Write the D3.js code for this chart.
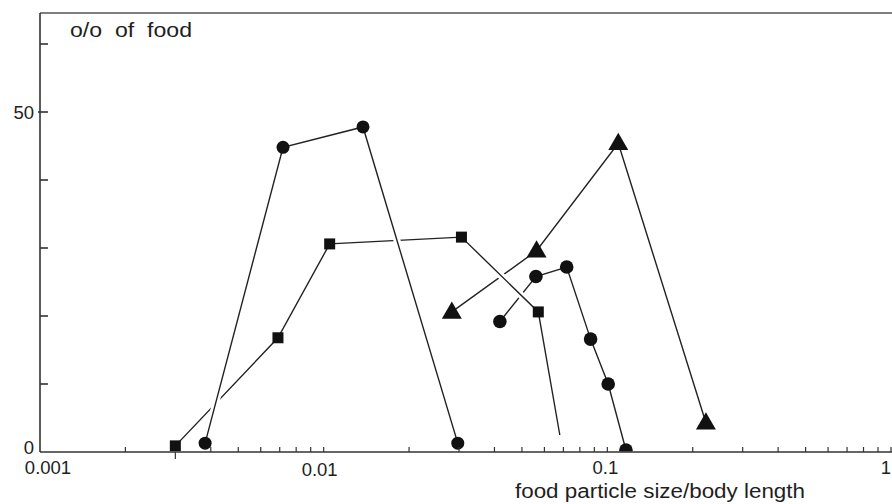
<!DOCTYPE html>
<html><head><meta charset="utf-8">
<script src="https://cdn.jsdelivr.net/npm/d3@7"></script>
<style>
html,body{margin:0;padding:0;background:#fff;}
svg{display:block;}
text{font-family:"Liberation Sans",Arial,Helvetica,sans-serif;fill:#1e1e1e;}
</style></head>
<body>
<svg id="chart" width="892" height="504"></svg>
<script>
// ---- data ----
const xTickLabels = ["0.001", "0.01", "0.1", "1"];
const xTickValues = [0.001, 0.01, 0.1, 1];
const yTickLabels = ["0", "50"];
const yTickLabelValues = [0, 50];
const yTicks = [10, 20, 30, 40, 50, 60];

// series A: circles, small particles
const circlesAX = [0.00382, 0.00719, 0.01376, 0.0297];
const circlesAY = [1.3, 44.8, 47.8, 1.3];
// series B: squares (last point is a line end without a marker)
const squaresX = [0.0030, 0.0069, 0.0105, 0.0306, 0.0571, 0.068];
const squaresY = [0.9, 16.8, 30.6, 31.6, 20.6, 2.5];
const squaresMarked = 5;
// series C: circles, larger particles
const circlesCX = [0.0418, 0.0560, 0.0719, 0.0873, 0.1007, 0.1163];
const circlesCY = [19.2, 25.8, 27.2, 16.6, 10.0, 0.3];
// series D: triangles
const trianglesX = [0.0283, 0.0563, 0.1093, 0.2226];
const trianglesY = [20.6, 29.6, 45.4, 4.3];

const yLabel = "o/o  of  food";
const xLabel = "food particle size/body length";

(function () {
// ---- layout ----
const svg = d3.select("#chart");
const L = 40, R = 891, T = 13, B = 452;
const x = d3.scaleLog().domain([0.001, 1]).range([L, R]);
const y = d3.scaleLinear().domain([0, (B - T) / 6.8]).range([B, T]);

const ink = "#222";
const zip = (xs, ys) => xs.map((v, i) => [v, ys[i]]);

svg.append("defs").append("clipPath").attr("id", "plot")
  .append("rect").attr("x", L).attr("y", 0).attr("width", 900).attr("height", B - 0.5);

const line = d3.line().x(d => x(d[0])).y(d => y(d[1]));
const gLines = svg.append("g").attr("clip-path", "url(#plot)");

// draw order gives the little breaks where lines cross
const order = [
  zip(trianglesX, trianglesY),
  zip(circlesCX, circlesCY),
  zip(squaresX, squaresY),
  zip(circlesAX, circlesAY)
];
order.forEach(pts => {
  gLines.append("path").attr("d", line(pts)).attr("fill", "none")
    .attr("stroke", "#fff").attr("stroke-width", 7);
  gLines.append("path").attr("d", line(pts)).attr("fill", "none")
    .attr("stroke", ink).attr("stroke-width", 1.4);
});

// markers
const gM = svg.append("g").attr("clip-path", "url(#plot)").attr("fill", "#111");
gM.append("g").selectAll("circle").data(zip(circlesAX, circlesAY)).join("circle")
  .attr("cx", d => x(d[0])).attr("cy", d => y(d[1])).attr("r", 6.5);
gM.append("g").selectAll("circle").data(zip(circlesCX, circlesCY)).join("circle")
  .attr("cx", d => x(d[0])).attr("cy", d => y(d[1])).attr("r", 6.8);
gM.append("g").selectAll("rect").data(zip(squaresX, squaresY).slice(0, squaresMarked)).join("rect")
  .attr("x", d => x(d[0]) - 5.5).attr("y", d => y(d[1]) - 5.5)
  .attr("width", 11).attr("height", 11);
const tri = d3.symbol().type(d3.symbolTriangle).size(173);
gM.append("g").selectAll("path").data(zip(trianglesX, trianglesY)).join("path")
  .attr("transform", d => `translate(${x(d[0])},${y(d[1]) + 1})`)
  .attr("d", tri());

// ---- axes / frame ----
const axisColor = "#333";
svg.append("line").attr("x1", L).attr("x2", 892).attr("y1", T).attr("y2", T)
  .attr("stroke", "#555").attr("stroke-width", 1.4);
svg.append("line").attr("x1", L).attr("x2", L).attr("y1", T).attr("y2", B)
  .attr("stroke", axisColor).attr("stroke-width", 1.6);
svg.append("line").attr("x1", L).attr("x2", 892).attr("y1", B).attr("y2", B)
  .attr("stroke", axisColor).attr("stroke-width", 1.6);

// y ticks
svg.append("g").selectAll("line").data(yTicks).join("line")
  .attr("x1", d => d === 50 ? L - 2 : L).attr("x2", L + 8)
  .attr("y1", d => y(d)).attr("y2", d => y(d))
  .attr("stroke", axisColor).attr("stroke-width", 1.6);

// x minor ticks (log)
const xTicks = [];
[0.001, 0.01, 0.1].forEach(dec => { for (let k = 2; k <= 10; k++) xTicks.push(dec * k); });
svg.append("g").selectAll("line").data(xTicks).join("line")
  .attr("x1", d => x(d)).attr("x2", d => x(d))
  .attr("y1", B).attr("y2", d => Math.abs(d - 0.003) < 1e-9 ? B + 7 : B - 5)
  .attr("stroke", axisColor).attr("stroke-width", 1.2);

// tick labels
const fs = 18.5;
const yLabDy = [2, 7];
yTickLabels.forEach((t, i) => {
  svg.append("text").attr("x", 34).attr("y", y(yTickLabelValues[i]) + yLabDy[i])
    .attr("text-anchor", "end").attr("font-size", fs).text(t);
});
const xLabDx = [8, -4, -2, 0];
const xLabY = [474, 476, 474, 474];
xTickLabels.forEach((t, i) => {
  svg.append("text").attr("x", i === 3 ? 891 : x(xTickValues[i]) + xLabDx[i])
    .attr("y", xLabY[i])
    .attr("text-anchor", i === 3 ? "end" : "middle")
    .attr("font-size", fs).text(t);
});

// axis titles (wide typeface in the original: stretch to its measured width)
svg.append("text").attr("x", 70).attr("y", 37).attr("font-size", 20)
  .attr("xml:space", "preserve").style("white-space", "pre")
  .attr("textLength", 122).attr("lengthAdjust", "spacingAndGlyphs").text(yLabel);
svg.append("text").attr("x", 515).attr("y", 498).attr("font-size", 20)
  .attr("textLength", 290).attr("lengthAdjust", "spacingAndGlyphs").text(xLabel);
})();
</script>
</body></html>
